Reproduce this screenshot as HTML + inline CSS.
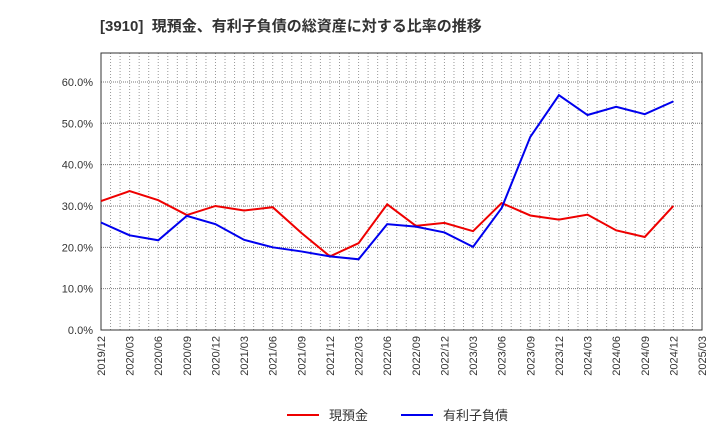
<!DOCTYPE html>
<html><head><meta charset="utf-8"><style>
body{margin:0;background:#fff;font-family:"Liberation Sans","Noto Sans CJK JP",sans-serif;}
</style></head><body>
<svg id="c" width="720" height="440" xmlns="http://www.w3.org/2000/svg">
<text x="100" y="31" font-size="15" font-weight="bold" fill="#333" font-family="Liberation Sans, Noto Sans CJK JP, sans-serif">[3910]&#160;&#160;現預金、有利子負債の総資産に対する比率の推移</text>
</svg>
<script>
const categories=["2019/12","2020/03","2020/06","2020/09","2020/12","2021/03","2021/06","2021/09","2021/12","2022/03","2022/06","2022/09","2022/12","2023/03","2023/06","2023/09","2023/12","2024/03","2024/06","2024/09","2024/12","2025/03"];
const cashValues=[31.2,33.6,31.4,27.8,30.0,28.9,29.7,23.5,17.8,21.0,30.4,25.2,25.9,23.9,30.7,27.7,26.7,27.9,24.1,22.5,30.0];
const debtValues=[26.0,22.9,21.7,27.6,25.6,21.8,20.0,19.0,17.8,17.1,25.6,25.0,23.6,20.1,29.5,46.7,56.8,52.0,54.0,52.2,55.3];
const yTicks=[0,10,20,30,40,50,60];
const NS="http://www.w3.org/2000/svg";
const svg=document.getElementById('c');
const L=101,R=702,T=53,B=330,yMax=67;
const x=i=>L+(R-L)*i/(categories.length-1);
const y=v=>B-(B-T)*v/yMax;
function mk(t,a){const e=document.createElementNS(NS,t);for(const k in a)e.setAttribute(k,a[k]);svg.appendChild(e);return e;}
for(let m=1;m<(categories.length-1)*3;m++){const xx=L+(R-L)*m/((categories.length-1)*3);
const g=mk('line',{x1:xx,x2:xx,y1:T,y2:B,stroke:'#999','stroke-dasharray':'1,2','stroke-width':1});

}
yTicks.forEach(v=>{
const g=mk('line',{x1:L,x2:R,y1:y(v),y2:y(v),stroke:'#777','stroke-dasharray':'1,1','stroke-width':1});


const t=mk('text',{x:L-8,y:y(v)+4,'text-anchor':'end','font-size':11,fill:'#333'});
t.textContent=v.toFixed(1)+'%';

});
const fr=mk('rect',{x:L,y:T,width:R-L,height:B-T,fill:'none',stroke:'#333','stroke-width':1});


categories.forEach((c,i)=>{const t=mk('text',{x:0,y:0,'text-anchor':'end','font-size':11,fill:'#333',transform:`translate(${x(i)+4},${B+6}) rotate(-90)`});
t.textContent=c;

});
function line(vals,col,name){const p=mk('polyline',{points:vals.map((v,i)=>x(i)+','+y(v)).join(' '),fill:'none',stroke:col,'stroke-width':2});

}
line(cashValues,'#e00','cash-line');
line(debtValues,'#00e','debt-line');
function leg(x0,col,label,name){const g=document.createElementNS(NS,'g');svg.appendChild(g);


const l=document.createElementNS(NS,'line');l.setAttribute('x1',x0);l.setAttribute('x2',x0+32);l.setAttribute('y1',415);l.setAttribute('y2',415);l.setAttribute('stroke',col);l.setAttribute('stroke-width',2);g.appendChild(l);
const t=document.createElementNS(NS,'text');t.setAttribute('x',x0+42);t.setAttribute('y',420);t.setAttribute('font-size',13);t.setAttribute('fill','#333');t.textContent=label;g.appendChild(t);}
leg(287,'#e00','現預金','legend-cash');
leg(401,'#00e','有利子負債','legend-debt');
</script>
</body></html>
